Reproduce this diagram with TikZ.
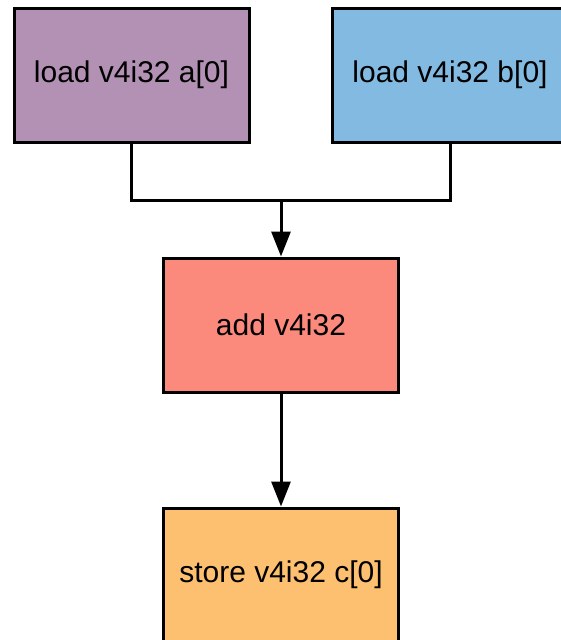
\documentclass[tikz,border=0pt]{standalone}
\usepackage{fontspec}
\setmainfont{Liberation Sans}
\usetikzlibrary{arrows.meta}
\definecolor{opload}{RGB}{179,145,180}
\definecolor{opload2}{RGB}{131,186,226}
\definecolor{opadd}{RGB}{251,138,125}
\definecolor{opstore}{RGB}{253,192,112}
\tikzset{
  op/.style={draw=black, line width=3pt, minimum width=235pt, minimum height=134pt,
    inner sep=0pt, font=\fontsize{30}{36}\selectfont},
  flow/.style={draw=black, line width=3pt, line join=miter},
  arr/.style={flow, -{Triangle[length=25pt,width=19pt]}}
}
\begin{document}
\begin{tikzpicture}[x=1pt,y=-1pt]
  \useasboundingbox (0,0) rectangle (560,640);
  \node[op, fill=opload]  (a)   at (131.5,75)  {load v4i32 a[0]};
  \node[op, fill=opload2] (b)   at (450,75)    {load v4i32 b[0]};
  \node[op, fill=opadd]   (add) at (281,325)   {add v4i32};
  \node[op, fill=opstore] (st)  at (281,575)   {store v4i32 c[0]};
  \coordinate (join) at (281,200);
  \draw[flow] (a.south) |- (join) -| (b.south);
  \draw[arr] (join) -- (add.north);
  \draw[arr] (add.south) -- (st.north);
\end{tikzpicture}
\end{document}
